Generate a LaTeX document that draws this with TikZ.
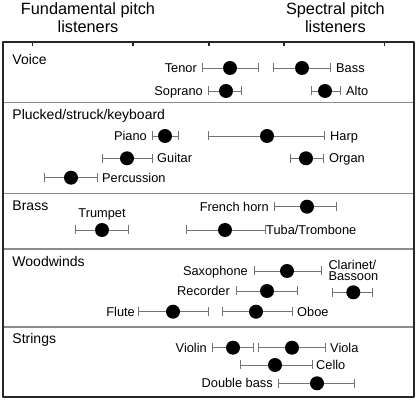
\documentclass[tikz,border=0pt]{standalone}
\usepackage{fontspec}
\setmainfont{Liberation Sans}
\usetikzlibrary{positioning}
\tikzset{
  bar/.style={draw=black!55, line width=0.9pt},
  whisker/.style={draw=black!55, line width=0.9pt},
  dot/.style={fill=black},
  lbl/.style={inner sep=0pt, font=\fontsize{12.8}{11.7}\selectfont, text height=9.2pt, text depth=0pt},
  twoline/.style={inner sep=0pt, font=\fontsize{12.8}{11.7}\selectfont, align=left},
  grp/.style={anchor=west, inner sep=0pt, font=\fontsize{14}{16}\selectfont, text height=10pt, text depth=0pt},
  hdr/.style={align=center, inner sep=0pt, anchor=north, font=\fontsize{16.3}{17.7}\selectfont},
  sep/.style={draw=black!45, line width=1.6pt},
  frame/.style={draw=black!85, line width=1.6pt}
}
\begin{document}
\begin{tikzpicture}[x=1pt,y=-1pt,line join=round]
\useasboundingbox (0,0) rectangle (418,403);
% headers
\node[hdr] (fund) at (88,2.5) {Fundamental pitch\\listeners};
\node[hdr] (spec) at (335.4,2.5) {Spectral pitch\\listeners};
% frame, group rules, ticks
\draw[frame] (3,42) rectangle (414,397);
\foreach \y in {102.5,193.5,249.3,327}\draw[sep] (3.8,\y) -- (413.2,\y);
\foreach \x in {32.5,133,209,284,384.3}\draw[frame] (\x,42) -- (\x,46.5);
% groups
\node[grp] (voice) at (12.3,59.7) {Voice};
\node[grp] (plucked) at (12.3,114.7) {Plucked/struck/keyboard};
\node[grp] (brass) at (12.3,206) {Brass};
\node[grp] (woodwinds) at (12.3,261.5) {Woodwinds};
\node[grp] (strings) at (12.3,338.8) {Strings};
% error bars: name/low/mid/high/y
\foreach \n/\lo/\md/\hi/\y in {tenor/202/230/258/68, bass/273/302/330/68,
  soprano/208/226/241/91, alto/311/325/340/91,
  piano/152/165/178/136, harp/208/267/324/136, guitar/102/127/152/158.3,
  organ/290/306/323/158.3, percussion/44/71/97/177.7,
  trumpet/75/102/128/230, frenchhorn/274/307/336/206.7, tuba/186/225/265/230,
  saxophone/254/287/321/271, clarinet/332/353.3/372.7/292.3, recorder/236/267/297/291,
  flute/138/173/208/311.7, oboe/222/256/292/311.7,
  violin/212/233/253/347.7, viola/258/292/325/347.7, cello/240/275/312/365,
  doublebass/278/317/354/383.3}{
  \coordinate (\n-lo) at (\lo,\y);
  \coordinate (\n-hi) at (\hi,\y);
  \coordinate (\n) at (\md,\y);
  \draw[bar] (\n-lo) -- (\n-hi);
  \draw[whisker] (\lo,\y-4.5) -- (\lo,\y+4.5) (\hi,\y-4.5) -- (\hi,\y+4.5);
  \fill[dot] (\n) circle (7pt);
}
% labels
\node[lbl, left=5pt of tenor-lo] (tenor-t) {Tenor};
\node[lbl, right=6pt of bass-hi] (bass-t) {Bass};
\node[lbl, left=5pt of soprano-lo] (soprano-t) {Soprano};
\node[lbl, right=6pt of alto-hi] (alto-t) {Alto};
\node[lbl, left=5pt of piano-lo] (piano-t) {Piano};
\node[lbl, right=6pt of harp-hi] (harp-t) {Harp};
\node[lbl, right=5pt of guitar-hi] (guitar-t) {Guitar};
\node[lbl, right=6pt of organ-hi] (organ-t) {Organ};
\node[lbl, right=5pt of percussion-hi] (percussion-t) {Percussion};
\node[lbl, above=12.3pt of trumpet] (trumpet-t) {Trumpet};
\node[lbl, left=5pt of frenchhorn-lo] (frenchhorn-t) {French horn};
\node[lbl, right=1pt of tuba-hi] (tuba-t) {Tuba/Trombone};
\node[lbl, left=6pt of saxophone-lo] (saxophone-t) {Saxophone};
\node[twoline, anchor=south west] (clarinet-t) at (328.3,281.3) {Clarinet/\\Bassoon};
\node[lbl, left=6pt of recorder-lo] (recorder-t) {Recorder};
\node[lbl, left=3pt of flute-lo] (flute-t) {Flute};
\node[lbl, right=5pt of oboe-hi] (oboe-t) {Oboe};
\node[lbl, left=5pt of violin-lo] (violin-t) {Violin};
\node[lbl, right=5pt of viola-hi] (viola-t) {Viola};
\node[lbl, right=4pt of cello-hi] (cello-t) {Cello};
\node[lbl, left=5pt of doublebass-lo] (doublebass-t) {Double bass};
\end{tikzpicture}
\end{document}
